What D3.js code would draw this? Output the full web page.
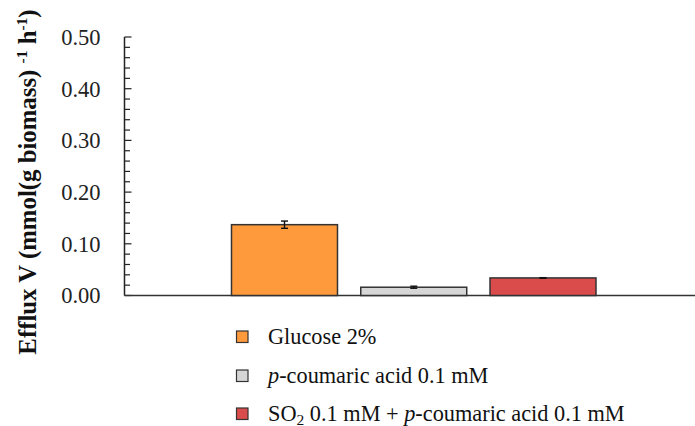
<!DOCTYPE html>
<html>
<head>
<meta charset="utf-8">
<script src="https://cdn.jsdelivr.net/npm/d3@7"></script>
<style>
  html, body { margin: 0; padding: 0; background: #fff; }
  svg { display: block; font-family: "Liberation Serif", "Times New Roman", serif; }
</style>
</head>
<body>
<svg id="chart" width="695" height="426"></svg>
<script>
// Efflux rates per condition (mmol g biomass^-1 h^-1) with standard deviations
const conditions = ["glucose", "coumaric", "so2coumaric"];
const effluxValues = [0.137, 0.016, 0.034];
const effluxErrors = [0.007, 0.002, 0.0005];
const barColors = ["#FF9A3C", "#D6D6D6", "#D94C4B"];
const yTicks = [0, 0.1, 0.2, 0.3, 0.4, 0.5];

const svg = d3.select("#chart");

const axisX = 124.5;
const y = d3.scaleLinear().domain([0, 0.5]).range([295.5, 37]);
const x = d3.scaleBand().domain(conditions).range([231.5, 596]).paddingInner(0.18).paddingOuter(0);

// y axis: line, major ticks every 0.1 and minor ticks every 0.02, pointing inward
const g = svg.append("g");
g.append("line")
  .attr("x1", axisX).attr("x2", axisX)
  .attr("y1", y(0.5)).attr("y2", y(0))
  .attr("stroke", "#222").attr("stroke-width", 1.5);

const minor = d3.range(0, 0.5001, 0.02);
g.selectAll("line.minor").data(minor).join("line")
  .attr("class", "minor")
  .attr("x1", axisX).attr("x2", (d, i) => axisX + (i % 5 === 0 ? 7 : 5.5))
  .attr("y1", d => y(d)).attr("y2", d => y(d))
  .attr("stroke", "#222").attr("stroke-width", 1.2);

g.selectAll("text.tick").data(yTicks).join("text")
  .attr("class", "tick")
  .attr("x", 100.5).attr("y", d => y(d))
  .attr("dy", "0.35em")
  .attr("text-anchor", "end")
  .attr("font-size", 22.5)
  .attr("fill", "#222")
  .text(d => d.toFixed(2));

// baseline across the plot
g.append("line")
  .attr("x1", axisX).attr("x2", 695)
  .attr("y1", y(0)).attr("y2", y(0))
  .attr("stroke", "#333").attr("stroke-width", 1.5);

// bars
svg.append("g").selectAll("rect").data(conditions).join("rect")
  .attr("x", d => x(d))
  .attr("width", x.bandwidth())
  .attr("y", (d, i) => y(effluxValues[i]))
  .attr("height", (d, i) => y(0) - y(effluxValues[i]))
  .attr("fill", (d, i) => barColors[i])
  .attr("stroke", "#333").attr("stroke-width", 1.5);

// error bars
const eb = svg.append("g").attr("stroke", "#111").attr("stroke-width", 1.4);
conditions.forEach((c, i) => {
  const cx = x(c) + x.bandwidth() / 2;
  const top = y(effluxValues[i] + effluxErrors[i]);
  const bot = y(effluxValues[i] - effluxErrors[i]);
  eb.append("line").attr("x1", cx).attr("x2", cx).attr("y1", top).attr("y2", bot);
  eb.append("line").attr("x1", cx - 3.5).attr("x2", cx + 3.5).attr("y1", top).attr("y2", top);
  eb.append("line").attr("x1", cx - 3.5).attr("x2", cx + 3.5).attr("y1", bot).attr("y2", bot);
});

// y axis title with superscripts
const title = svg.append("text")
  .attr("transform", "translate(35.5,182) rotate(-90)")
  .attr("text-anchor", "middle")
  .attr("font-size", 24.8)
  .attr("font-weight", "bold")
  .attr("fill", "#111");
title.append("tspan").text("Efflux V (mmol(g biomass) ");
title.append("tspan").attr("font-size", 15.5).attr("dy", -9).text("-1");
title.append("tspan").attr("dy", 9).text(" h");
title.append("tspan").attr("font-size", 15.5).attr("dy", -9).text("-1");
title.append("tspan").attr("dy", 9).text(")");

// legend
const legendRows = [336.5, 375.5, 413.5];
const legend = svg.append("g");
legendRows.forEach((ly, i) => {
  legend.append("rect")
    .attr("x", 236.5).attr("y", ly - 5.5)
    .attr("width", 11.5).attr("height", 11.5)
    .attr("fill", barColors[i])
    .attr("stroke", "#333").attr("stroke-width", 1.2);
});
const lt = (i) => legend.append("text")
  .attr("x", 268).attr("y", legendRows[i] + 7)
  .attr("font-size", 22.3).attr("fill", "#111");

lt(0).text("Glucose 2%");

const t1 = lt(1);
t1.append("tspan").attr("font-style", "italic").text("p");
t1.append("tspan").text("-coumaric acid 0.1 mM");

const t2 = lt(2);
t2.append("tspan").text("SO");
t2.append("tspan").attr("font-size", 15.5).attr("dy", 4).text("2");
t2.append("tspan").attr("dy", -4).text(" 0.1 mM + ");
t2.append("tspan").attr("font-style", "italic").text("p");
t2.append("tspan").text("-coumaric acid 0.1 mM");
</script>
</body>
</html>
